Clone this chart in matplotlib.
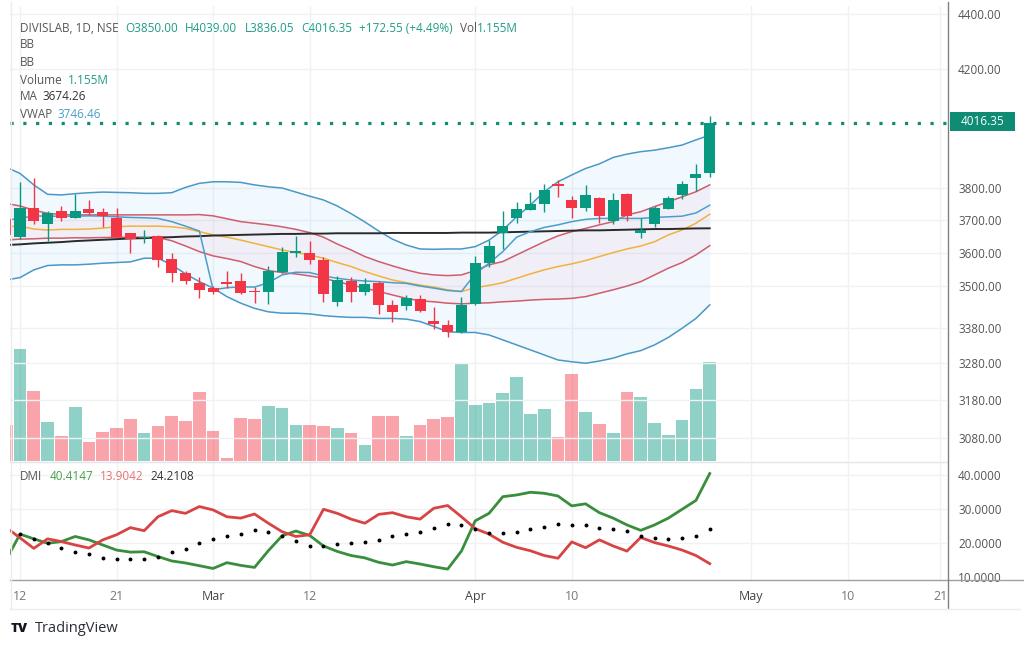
import numpy as np
import matplotlib.pyplot as plt
from matplotlib.lines import Line2D
from matplotlib.patches import Rectangle
from matplotlib.ticker import FixedLocator, FuncFormatter, NullLocator

plt.rcParams['font.family'] = ['Open Sans', 'DejaVu Sans']

# daily candles, 9 Feb .. 26 Apr (index 0 is cut off at the left edge)
opens = [3702, 3646, 3739, 3688, 3729, 3707, 3733, 3724, 3705, 3659,
         3644, 3650, 3582, 3540, 3508, 3493, 3513, 3515, 3486, 3484,
         3543, 3600, 3598, 3578, 3452, 3516, 3484, 3510, 3446, 3441,
         3462, 3400, 3388, 3366, 3447, 3570, 3661, 3707, 3732, 3751,
         3813, 3763, 3739, 3770, 3698, 3782, 3659, 3688, 3735, 3779,
         3833, 3850]
highs = [3715, 3820, 3833, 3728, 3745, 3781, 3763, 3738, 3739, 3660,
         3669, 3654, 3600, 3546, 3528, 3501, 3546, 3540, 3497, 3560,
         3618, 3651, 3635, 3586, 3531, 3528, 3523, 3515, 3459, 3474,
         3474, 3439, 3402, 3469, 3590, 3638, 3727, 3756, 3787, 3814,
         3827, 3776, 3811, 3772, 3785, 3785, 3707, 3745, 3777, 3825,
         3879, 4039]
lows = [3650, 3642, 3688, 3635, 3698, 3705, 3716, 3677, 3645, 3598,
        3628, 3556, 3511, 3506, 3464, 3476, 3494, 3477, 3451, 3449,
        3538, 3588, 3565, 3454, 3442, 3454, 3474, 3420, 3397, 3431,
        3425, 3375, 3352, 3364, 3444, 3558, 3610, 3690, 3730, 3724,
        3773, 3705, 3729, 3692, 3688, 3698, 3643, 3677, 3733, 3765,
        3790, 3836.05]
closes = [3655, 3739, 3698, 3722, 3707, 3729, 3723, 3712, 3648, 3641,
          3648, 3578, 3540, 3516, 3487, 3482, 3506, 3479, 3483, 3546,
          3601, 3605, 3578, 3477, 3518, 3484, 3505, 3444, 3425, 3464,
          3428, 3390, 3366, 3444, 3568, 3621, 3682, 3735, 3749, 3795,
          3809, 3739, 3779, 3714, 3763, 3711, 3669, 3738, 3768, 3814,
          3846, 4016.35]
volume_m = [0.419, 1.299, 0.814, 0.457, 0.287, 0.632, 0.221, 0.341, 0.387, 0.485,
            0.329, 0.407, 0.523, 0.465, 0.806, 0.349, 0.031, 0.497, 0.485, 0.640,
            0.620, 0.419, 0.419, 0.407, 0.387, 0.322, 0.183, 0.523, 0.523, 0.291,
            0.419, 0.485, 0.515, 1.143, 0.651, 0.678, 0.794, 0.977, 0.550, 0.601,
            0.279, 1.015, 0.573, 0.434, 0.329, 0.806, 0.748, 0.445, 0.302, 0.473,
            0.834, 1.155]

bb_outer_upper = [3868, 3848, 3811, 3781, 3779, 3783, 3786, 3788, 3787, 3786,
                  3784, 3784, 3786, 3803, 3816, 3821, 3821, 3819, 3811, 3805,
                  3801, 3788, 3775, 3763, 3744, 3720, 3694, 3666, 3641, 3623,
                  3611, 3610, 3611, 3611, 3618, 3638, 3669, 3710, 3747, 3789,
                  3821, 3843, 3864, 3879, 3900, 3911, 3919, 3924, 3932, 3941,
                  3958, 3974]
bb_outer_lower = [3518, 3525, 3548, 3561, 3563, 3563, 3565, 3568, 3570, 3572,
                  3583, 3583, 3563, 3536, 3513, 3494, 3469, 3450, 3435, 3425,
                  3421, 3421, 3419, 3414, 3411, 3409, 3409, 3406, 3406, 3404,
                  3397, 3383, 3368, 3366, 3366, 3359, 3345, 3331, 3317, 3303,
                  3289, 3284, 3280, 3286, 3294, 3306, 3315, 3331, 3352, 3378,
                  3406, 3445]
bb_inner_upper = [3752, 3744, 3731, 3721, 3717, 3716, 3716, 3716, 3716, 3716,
                  3716, 3716, 3716, 3716, 3717, 3713, 3704, 3695, 3690, 3685,
                  3679, 3671, 3661, 3647, 3626, 3608, 3588, 3573, 3560, 3548,
                  3538, 3533, 3531, 3533, 3546, 3563, 3573, 3593, 3613, 3633,
                  3651, 3664, 3674, 3685, 3695, 3716, 3726, 3742, 3757, 3773,
                  3789, 3811]
bb_inner_lower = [3638, 3641, 3642, 3644, 3644, 3645, 3645, 3646, 3646, 3647,
                  3647, 3646, 3636, 3620, 3603, 3590, 3582, 3573, 3558, 3546,
                  3540, 3536, 3530, 3523, 3513, 3503, 3494, 3484, 3474, 3464,
                  3457, 3454, 3450, 3448, 3450, 3451, 3454, 3456, 3459, 3461,
                  3462, 3464, 3469, 3479, 3489, 3500, 3513, 3533, 3553, 3570,
                  3593, 3621]
bb_basis = [3679, 3681, 3672, 3669, 3671, 3671, 3672, 3675, 3679, 3681,
            3681, 3681, 3679, 3674, 3664, 3654, 3647, 3638, 3628, 3618,
            3608, 3600, 3593, 3583, 3570, 3558, 3543, 3530, 3518, 3510,
            3503, 3497, 3489, 3484, 3495, 3502, 3510, 3523, 3536, 3548,
            3558, 3566, 3576, 3588, 3600, 3611, 3620, 3633, 3654, 3669,
            3690, 3718]
vwap = [3700, 3705, 3713, 3712, 3712, 3712, 3713, 3712, 3710, 3708,
        3707, 3705, 3695, 3681, 3666, 3489, 3495, 3498, 3497, 3510,
        3533, 3541, 3540, 3530, 3523, 3518, 3515, 3513, 3510, 3508,
        3500, 3494, 3487, 3484, 3536, 3568, 3603, 3647, 3664, 3677,
        3685, 3695, 3702, 3705, 3705, 3705, 3705, 3708, 3710, 3712,
        3722, 3746.46]
ma = [3623, 3625, 3628, 3630, 3632, 3635, 3637, 3639, 3641, 3643,
      3644, 3646, 3647, 3649, 3650, 3652, 3653, 3654, 3655, 3656,
      3657, 3657, 3658, 3658, 3659, 3659, 3659, 3659, 3660, 3660,
      3660, 3660, 3660, 3661, 3661, 3661, 3662, 3663, 3664, 3665,
      3666, 3667, 3668, 3668, 3669, 3670, 3671, 3672, 3672, 3673,
      3674, 3674.26]

plus_di = [15.0, 22.6, 21.2, 19.9, 20.4, 21.9, 20.9, 19.4, 17.9, 17.3,
           17.4, 16.0, 14.7, 14.1, 13.3, 12.5, 14.2, 13.4, 12.8, 17.7,
           22.1, 23.5, 22.2, 19.1, 17.5, 16.3, 15.6, 14.3, 13.5, 14.5,
           13.8, 13.0, 12.3, 17.6, 26.5, 28.7, 33.6, 34.1, 34.9, 34.6,
           33.8, 30.9, 31.5, 28.9, 27.3, 25.3, 23.7, 25.3, 27.3, 29.9,
           32.5, 40.4147]
minus_di = [24.5, 21.5, 18.4, 21.2, 20.4, 19.4, 18.5, 20.9, 22.4, 24.5,
            23.6, 27.7, 29.5, 28.7, 30.7, 29.7, 27.7, 27.3, 28.5, 25.8,
            23.3, 21.9, 22.4, 29.9, 28.7, 27.0, 25.8, 28.4, 28.9, 27.7,
            27.0, 30.2, 31.0, 27.7, 24.2, 22.6, 20.2, 18.7, 17.7, 16.3,
            15.5, 20.3, 18.6, 20.9, 19.1, 17.6, 21.6, 20.1, 19.1, 17.9,
            16.3, 13.9042]
adx = [23.5, 22.6, 21.1, 19.9, 18.4, 17.4, 16.6, 15.7, 15.2, 15.2,
       15.2, 16.0, 17.2, 18.3, 19.9, 21.1, 21.9, 22.6, 23.8, 23.3,
       21.9, 20.6, 19.1, 19.1, 19.6, 19.9, 20.3, 20.9, 21.9, 22.6,
       23.1, 24.3, 25.6, 25.3, 24.0, 22.8, 23.0, 23.3, 24.0, 24.8,
       25.6, 25.3, 25.3, 24.5, 24.0, 23.5, 22.1, 21.4, 21.1, 21.4,
       22.1, 24.2108]

date_pos = [1, 8, 15, 22, 34, 41, 54, 61, 67.7]
date_labels = ['12', '21', 'Mar', '12', 'Apr', '10', 'May', '10', '21']
price_ticks = [4400, 4200, 3800, 3700, 3600, 3500, 3380, 3280, 3180, 3080]
dmi_ticks = [40, 30, 20, 10]

GREEN = '#089981'
RED = '#f23645'
TXT = '#555555'
GRID = '#f0f1f3'

W, H = 1024, 647
fig = plt.figure(figsize=(W / 100, H / 100), dpi=100)
fig.patch.set_facecolor('white')


def fx(px):
    return px / W


def fy(py):
    return 1 - py / H


x = np.arange(len(closes))
up = np.array(closes) >= np.array(opens)

# panels
rect_price = [fx(10), fy(461), fx(947) - fx(10), fy(6) - fy(461)]
ax_vol = fig.add_axes(rect_price)
ax = fig.add_axes(rect_price, sharex=ax_vol)
ax.patch.set_visible(False)
ax_dmi = fig.add_axes([fx(10), fy(580), fx(947) - fx(10), fy(462) - fy(580)], sharex=ax_vol)

for a in (ax_vol, ax, ax_dmi):
    for s in a.spines.values():
        s.set_visible(False)

ax_vol.set_xlim(0.275, 68.2)

# volume (underneath)
vcol = [GREEN if u else RED for u in up]
ax_vol.bar(x, volume_m, width=0.92, color=vcol, alpha=0.45, linewidth=0, zorder=2)
ax_vol.set_ylim(0, 5.29)
ax_vol.yaxis.set_major_locator(NullLocator())
ax_vol.tick_params(axis='x', length=0, labelbottom=False)
for p in date_pos:
    ax_vol.axvline(p, color=GRID, lw=1, zorder=0)

# price panel
ax.set_yscale('log')
ax.set_ylim(3021, 4430)
for t in price_ticks:
    ax.axhline(t, color=GRID, lw=1, zorder=0)

ax.fill_between(x, bb_outer_lower, bb_outer_upper, color='#2196f3', alpha=0.06, lw=0, zorder=1)
ax.fill_between(x, bb_inner_lower, bb_inner_upper, color='#e91e63', alpha=0.04, lw=0, zorder=1)
ax.plot(x, bb_outer_upper, color='#4a98c6', lw=1.1, zorder=2)
ax.plot(x, bb_outer_lower, color='#4a98c6', lw=1.1, zorder=2)
ax.plot(x, bb_inner_upper, color='#cf5d6c', lw=1.1, zorder=2)
ax.plot(x, bb_inner_lower, color='#cf5d6c', lw=1.1, zorder=2)
ax.plot(x, bb_basis, color='#f0b23b', lw=1.1, zorder=2)
ax.plot(x, ma, color='#2a2a2a', lw=1.4, zorder=3)
ax.plot(x, vwap, color='#4a9fca', lw=1.1, zorder=3)

# candles
ccol = np.where(up, GREEN, RED)
ax.vlines(x, lows, highs, color=ccol, lw=1, zorder=4)
body_lo = np.minimum(opens, closes)
body_h = np.maximum(np.abs(np.array(closes) - np.array(opens)), 2.5)
ax.bar(x, body_h, bottom=body_lo, width=0.8, color=ccol, linewidth=0, zorder=5)

# last price line + badge
ax.axhline(closes[-1], color='#118a72', lw=2.3, ls=(0, (1, 3)), zorder=6)

ax.yaxis.tick_right()
ax.yaxis.set_major_locator(FixedLocator(price_ticks))
ax.yaxis.set_minor_locator(NullLocator())
ax.yaxis.set_major_formatter(FuncFormatter(lambda v, p: '%.2f' % v))
ax.tick_params(axis='y', length=0, pad=8, labelsize=8.5, labelcolor=TXT)
ax.tick_params(axis='x', length=0, labelbottom=False)

# DMI panel
ax_dmi.set_ylim(9.1, 43.8)
for t in dmi_ticks[:-1]:
    ax_dmi.axhline(t, color=GRID, lw=1, zorder=0)
for p in date_pos:
    ax_dmi.axvline(p, color=GRID, lw=1, zorder=0)
ax_dmi.plot(x, plus_di, color='#388e3c', lw=2, zorder=3)
ax_dmi.plot(x, minus_di, color='#d84343', lw=2, zorder=3)
ax_dmi.plot(x, adx, 'o', color='black', ms=1.8, zorder=4)
ax_dmi.yaxis.tick_right()
ax_dmi.yaxis.set_major_locator(FixedLocator(dmi_ticks))
ax_dmi.yaxis.set_major_formatter(FuncFormatter(lambda v, p: '%.4f' % v))
ax_dmi.tick_params(axis='y', length=0, pad=8, labelsize=8.5, labelcolor=TXT)
ax_dmi.set_xticks(date_pos)
ax_dmi.set_xticklabels(date_labels)
ax_dmi.tick_params(axis='x', length=0, pad=7, labelsize=9, labelcolor='#777777')
for lbl in ax_dmi.get_xticklabels():
    if lbl.get_text() in ('Mar', 'Apr', 'May'):
        lbl.set_color('#444444')

# frame lines
fig.add_artist(Line2D([fx(10), fx(1024)], [fy(580), fy(580)], color='#a0a0a0', lw=1))
fig.add_artist(Line2D([fx(10), fx(947)], [fy(461.5), fy(461.5)], color='#e3e5ea', lw=1))
fig.add_artist(Line2D([fx(947.5), fx(947.5)], [fy(2), fy(608)], color='#808080', lw=1))
fig.add_artist(Line2D([fx(10), fx(1020)], [fy(609), fy(609)], color='#ececec', lw=1))
fig.add_artist(Line2D([fx(10.5), fx(10.5)], [fy(2), fy(609)], color='#ececec', lw=1))

# badge
fig.add_artist(Rectangle((fx(950), fy(131)), fx(65), fy(112) - fy(131),
                         transform=fig.transFigure, color='#0e8c74', lw=0))
fig.text(fx(982.5), fy(121.5), '%.2f' % closes[-1], color='white', fontsize=8.5,
         ha='center', va='center')

# legend texts
renderer = fig.canvas.get_renderer()
TEAL = '#1f9c87'


def text_run(px, py, parts, size=8.5):
    for s, c, gap in parts:
        t = fig.text(fx(px), fy(py), s, color=c, fontsize=size, ha='left', va='center')
        px += t.get_window_extent(renderer).width + gap


text_run(20, 28, [('DIVISLAB, 1D, NSE', TXT, 7), ('O3850.00', TEAL, 7), ('H4039.00', TEAL, 7),
                  ('L3836.05', TEAL, 7), ('C4016.35', TEAL, 7), ('+172.55 (+4.49%)', TEAL, 7),
                  ('Vol', TXT, 0), ('1.155M', TEAL, 0)])
text_run(20, 45, [('BB', TXT, 0)])
text_run(20, 62, [('BB', TXT, 0)])
text_run(20, 80, [('Volume', TXT, 6), ('1.155M', TEAL, 0)])
text_run(20, 97, [('MA', TXT, 5), ('3674.26', '#333333', 0)])
text_run(20, 115, [('VWAP', TXT, 5), ('3746.46', '#4a9fca', 0)])
text_run(20, 477, [('DMI', TXT, 7), ('40.4147', '#43a047', 7), ('13.9042', '#e57373', 7),
                   ('24.2108', '#333333', 0)])

# footer
fig.text(fx(11), fy(629), 'TV', fontsize=9.5, fontweight='heavy', color='#131722',
         ha='left', va='center')
fig.text(fx(35), fy(629), 'TradingView', fontsize=10.5, color='#2a2e39', ha='left', va='center')

fig.savefig('out.png', dpi=100)
